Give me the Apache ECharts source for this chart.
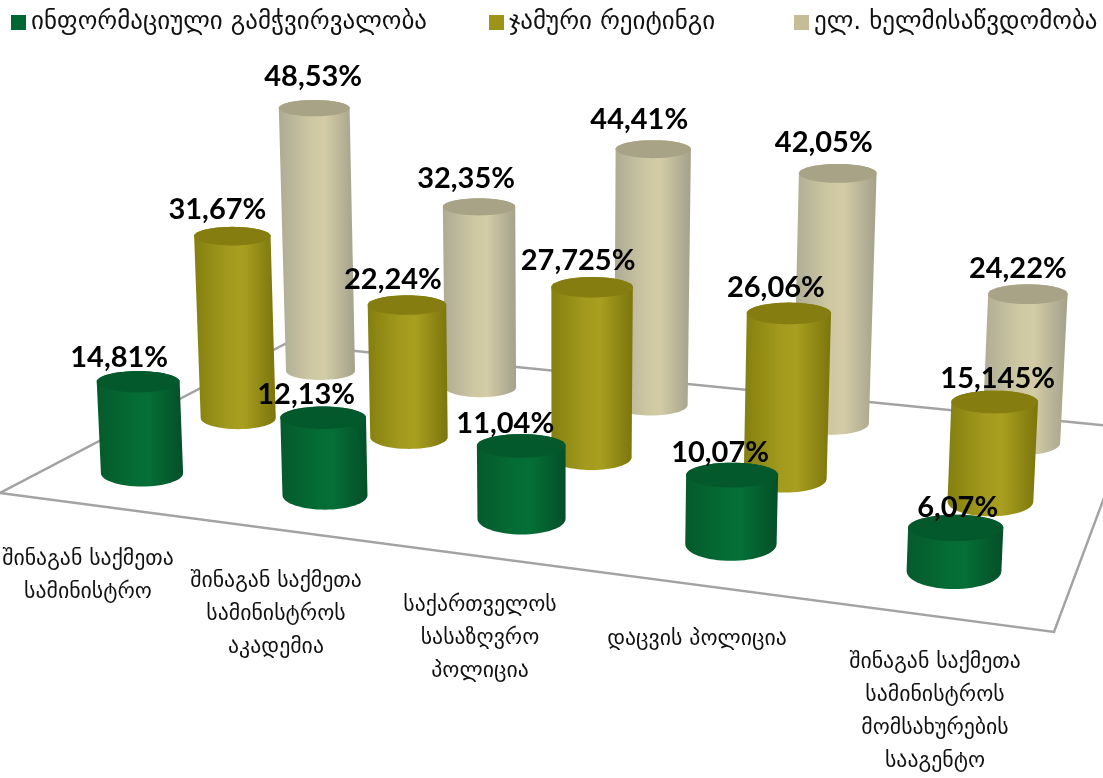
<!DOCTYPE html>
<html>
<head>
<meta charset="utf-8">
<style>html,body{margin:0;padding:0;background:#fff}#c{width:1103px;height:778px}</style>
<script src="https://cdn.jsdelivr.net/npm/echarts@6/dist/echarts.min.js"></script>
</head>
<body>
<div id="c"></div>
<script>
const categories = [
  "შინაგან საქმეთა\nსამინისტრო",
  "შინაგან საქმეთა\nსამინისტროს\nაკადემია",
  "საქართველოს\nსასაზღვრო\nპოლიცია",
  "დაცვის პოლიცია",
  "შინაგან საქმეთა\nსამინისტროს\nმომსახურების\nსააგენტო"
];
const seriesNames = ["ინფორმაციული გამჭვირვალობა", "ჯამური რეიტინგი", "ელ. ხელმისაწვდომობა"];
const transparency = [14.81, 12.13, 11.04, 10.07, 6.07];
const totalRating = [31.67, 22.24, 27.725, 26.06, 15.145];
const eAccess = [48.53, 32.35, 44.41, 42.05, 24.22];
const valueLabels = [
  ["14,81%", "12,13%", "11,04%", "10,07%", "6,07%"],
  ["31,67%", "22,24%", "27,725%", "26,06%", "15,145%"],
  ["48,53%", "32,35%", "44,41%", "42,05%", "24,22%"]
];
const allValues = [transparency, totalRating, eAccess];

// ---- layout / styling (not data) ----
const floorPolygon = [[0, 493], [285, 344], [1130, 428], [1054, 632]];
const baseCorners = [[142, 473], [954, 571], [320.5, 371], [1021, 443]]; // rows: (cat0,s0),(cat4,s0),(cat0,s2),(cat4,s2)
const labelNudge = [
  [[-19, -24], [-17, -23], [-16, -22], [-12, -22], [2, -20]],
  [[-15, -27], [-14, -25], [-14, -27], [-13, -26], [3, -23]],
  [[-1, -31], [-13, -28], [-14, -30], [-14, -31], [-10, -26]]
];
const categoryLabelPos = [[88, 576], [276, 614], [480, 638], [697, 639], [935, 712]];
const legendLefts = [6, 484, 789];
const heightPerRadius = [0.015, 0.0153, 0.0157];
const palette = [
  { legend: "#006633", top: "#04592c", stops: ["#055a2c", "#046c35", "#056f37", "#044f28"], },
  { legend: "#9c9319", top: "#857d10", stops: ["#84800f", "#a39a1e", "#a89f20", "#7b750c"], },
  { legend: "#c4bd97", top: "#a8a387", stops: ["#aeab95", "#cdc7a2", "#d3cca6", "#a4a18c"], }
];

// Perspective map from (category, series depth) to the floor
function squareToQuad(q) {
  const [[x0, y0], [x1, y1], [x3, y3], [x2, y2]] = q;
  const dx1 = x1 - x2, dx2 = x3 - x2, sx = x0 - x1 + x2 - x3;
  const dy1 = y1 - y2, dy2 = y3 - y2, sy = y0 - y1 + y2 - y3;
  const d = dx1 * dy2 - dx2 * dy1;
  const g = (sx * dy2 - dx2 * sy) / d, h = (dx1 * sy - sx * dy1) / d;
  return {
    a: x1 - x0 + g * x1, b: x3 - x0 + h * x3, c: x0,
    d: y1 - y0 + g * y1, e: y3 - y0 + h * y3, f: y0, g, h
  };
}
const H = squareToQuad(baseCorners);
function project(cat, depth) {
  const u = Math.pow(cat / 4, 1.012), v = depth / 2, w = H.g * u + H.h * v + 1;
  return [(H.a * u + H.b * v + H.c) / w, (H.d * u + H.e * v + H.f) / w];
}
const radiusAt = y => 34.5 + (y - 371) * 0.0645;
const flatAt = y => 9 + (y - 371) * 0.045;
const VANISH_X = 560, SPREAD = 1e-4;

function arcPts(cx, cy, rx, ry, from, to, n) {
  const pts = [];
  for (let k = 0; k <= n; k++) {
    const t = from + (to - from) * k / n;
    pts.push([cx + rx * Math.cos(t), cy + ry * Math.sin(t)]);
  }
  return pts;
}

function topOf(api, depth) {
  const cat = api.value(0), val = api.value(1);
  const [bx, by] = project(cat, depth);
  const rx = radiusAt(by), ry = flatAt(by);
  const h = api.size([0, val])[1] * heightPerRadius[depth] * rx;
  const spread = 1 + SPREAD * h;
  return {
    cat, bx, by, rx, ry,
    tx: VANISH_X + (bx - VANISH_X) * spread, ty: by - h,
    trx: rx * spread, tryy: ry * 0.55 + 3.2
  };
}

function cylinder(depth) {
  return function (params, api) {
    const c = topOf(api, depth);
    const p = palette[depth];
    const body = arcPts(c.tx, c.ty, c.trx, c.tryy, Math.PI, 2 * Math.PI, 24)
      .concat(arcPts(c.bx, c.by, c.rx, c.ry, 0, Math.PI, 32));
    return {
      type: "group",
      children: [
        {
          type: "polygon", shape: { points: body },
          style: {
            fill: {
              type: "linear", x: 0, y: 0, x2: 1, y2: 0,
              colorStops: [
                { offset: 0, color: p.stops[0] }, { offset: 0.42, color: p.stops[1] },
                { offset: 0.6, color: p.stops[2] }, { offset: 1, color: p.stops[3] }
              ]
            }
          }
        },
        {
          type: "polygon", shape: { points: arcPts(c.tx, c.ty, c.trx, c.tryy, 0, 2 * Math.PI, 64) },
          style: { fill: p.top }
        }
      ]
    };
  };
}

function valueLabel(depth) {
  return function (params, api) {
    const c = topOf(api, depth);
    const n = labelNudge[depth][c.cat];
    return {
      type: "text",
      style: {
        x: c.tx + n[0], y: c.ty + n[1], text: valueLabels[depth][c.cat],
        font: "bold 29px Lato, 'Open Sans', sans-serif", fill: "#000",
        textAlign: "center", textVerticalAlign: "middle"
      }
    };
  };
}

function pairs(values) { return values.map((v, i) => [i, v]); }

const cylSeries = [2, 1, 0].map(d => ({
  name: seriesNames[d], type: "custom", coordinateSystem: "cartesian2d",
  renderItem: cylinder(d), data: pairs(allValues[d]), z: 3 + (2 - d),
  itemStyle: { color: palette[d].legend }, silent: true, clip: false, animation: false
}));
const labelSeries = [0, 1, 2].map(d => ({
  name: "label" + d, type: "custom", coordinateSystem: "cartesian2d",
  renderItem: valueLabel(d), data: pairs(allValues[d]), z: 10, silent: true, clip: false, animation: false
}));
const catLabelSeries = {
  name: "categories", type: "custom", coordinateSystem: "cartesian2d", z: 9, silent: true, clip: false, animation: false,
  data: categories.map((c, i) => [i, 0]),
  renderItem(params, api) {
    const i = api.value(0), pos = categoryLabelPos[i];
    return {
      type: "text",
      style: {
        x: pos[0], y: pos[1], text: categories[i],
        font: "21.8px 'DejaVu Sans'", fill: "#111", lineHeight: 33,
        textAlign: "center", textVerticalAlign: "middle"
      }
    };
  }
};

const chart = echarts.init(document.getElementById("c"), null, { renderer: "canvas" });
chart.setOption({
  animation: false,
  backgroundColor: "#fff",
  grid: { left: 0, top: 0, width: 1103, height: 500, show: false },
  xAxis: { type: "category", data: categories, show: false },
  yAxis: { type: "value", min: 0, max: 50, interval: 10, show: false },
  legend: seriesNames.map((name, i) => ({
    data: [name], left: legendLefts[i], top: 5, icon: "rect", itemWidth: 15, itemHeight: 15,
    selectedMode: false,
    textStyle: { fontFamily: "DejaVu Sans", fontSize: 25, color: "#111", padding: [0, 0, 0, 0] }
  })),
  graphic: {
    elements: [{
      type: "polygon", z: -1, silent: true,
      shape: { points: floorPolygon },
      style: { fill: "#fff", stroke: "#a3a3a3", lineWidth: 2.5 }
    }]
  },
  series: cylSeries.concat(labelSeries, [catLabelSeries])
});
</script>
</body>
</html>
